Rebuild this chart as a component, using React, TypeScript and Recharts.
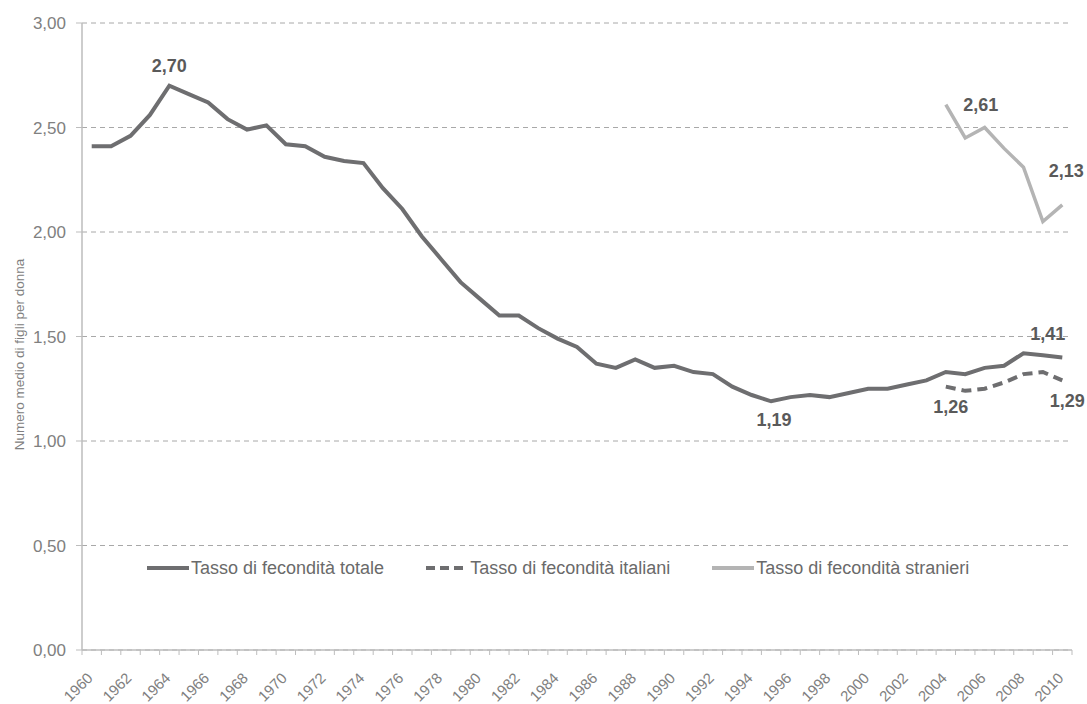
import React from "react";
import {
  ComposedChart,
  Line,
  XAxis,
  YAxis,
  CartesianGrid,
} from "recharts";

// categories
const years = [
  "1960", "1961", "1962", "1963", "1964", "1965", "1966", "1967", "1968", "1969",
  "1970", "1971", "1972", "1973", "1974", "1975", "1976", "1977", "1978", "1979",
  "1980", "1981", "1982", "1983", "1984", "1985", "1986", "1987", "1988", "1989",
  "1990", "1991", "1992", "1993", "1994", "1995", "1996", "1997", "1998", "1999",
  "2000", "2001", "2002", "2003", "2004", "2005", "2006", "2007", "2008", "2009",
  "2010",
];

// Tasso di fecondità totale, 1960-2010
const totale = [
  2.41, 2.41, 2.46, 2.56, 2.70, 2.66, 2.62, 2.54, 2.49, 2.51,
  2.42, 2.41, 2.36, 2.34, 2.33, 2.21, 2.11, 1.98, 1.87, 1.76,
  1.68, 1.60, 1.60, 1.54, 1.49, 1.45, 1.37, 1.35, 1.39, 1.35,
  1.36, 1.33, 1.32, 1.26, 1.22, 1.19, 1.21, 1.22, 1.21, 1.23,
  1.25, 1.25, 1.27, 1.29, 1.33, 1.32, 1.35, 1.36, 1.42, 1.41,
  1.40,
];

// italiani / stranieri only from 2004
const seriesStart = "2004";
const italiani = [1.26, 1.24, 1.25, 1.28, 1.32, 1.33, 1.29];
const stranieri = [2.61, 2.45, 2.50, 2.40, 2.31, 2.05, 2.13];

const yTicks = [0, 0.5, 1, 1.5, 2, 2.5, 3];

// which points get a value label
const totaleNotes = ["1964", "1995", "2009"];
const italianiNotes = ["2004", "2010"];
const stranieriNotes = ["2004", "2010"];

const Y_TITLE = "Numero medio di figli per donna";

const DARK = "#6e6e70";
const LIGHT = "#b4b4b4";
const AXIS = "#bdbdbd";
const FONT = "'Liberation Sans', Arial, Helvetica, sans-serif";

// label placement relative to the point (text baseline)
const NOTE_OFFSETS: Record<string, { dx: number; dy: number }> = {
  "totale-1964": { dx: 0, dy: -14 },
  "totale-1995": { dx: 3, dy: 25 },
  "totale-2009": { dx: 5, dy: -15 },
  "italiani-2004": { dx: 5, dy: 26 },
  "italiani-2010": { dx: 5, dy: 27 },
  "stranieri-2004": { dx: 35, dy: 6 },
  "stranieri-2010": { dx: 4, dy: -28 },
};

const startIdx = years.indexOf(seriesStart);
const data = years.map((year, i) => ({
  year,
  totale: totale[i],
  italiani: i >= startIdx ? italiani[i - startIdx] : null,
  stranieri: i >= startIdx ? stranieri[i - startIdx] : null,
}));

const fmt = (v: number) => v.toFixed(2).replace(".", ",");

function makeNoteDot(series: string, notes: string[]) {
  return (props: any) => {
    const { cx, cy, index, payload, value } = props;
    const key = `${series}-dot-${index}`;
    if (cx == null || cy == null || !payload || !notes.includes(payload.year)) {
      return <g key={key} />;
    }
    const off = NOTE_OFFSETS[`${series}-${payload.year}`] || { dx: 0, dy: -10 };
    const v = Array.isArray(value) ? value[1] : value;
    return (
      <text
        key={key}
        x={cx + off.dx}
        y={cy + off.dy}
        textAnchor="middle"
        fontFamily={FONT}
        fontSize={18}
        fontWeight="bold"
        fill="#5a5a5a"
      >
        {fmt(Number(v))}
      </text>
    );
  };
}

function YearTick(props: any) {
  const { x, y, payload, index } = props;
  const half = payload?.offset || 9.7;
  const showLabel = Number(payload.value) % 2 === 0;
  const tx = x + 2;
  const ty = y + 29;
  return (
    <g>
      <line x1={x - half} x2={x - half} y1={y} y2={y + 5} stroke={AXIS} strokeWidth={1} />
      {index === years.length - 1 && (
        <line x1={x + half} x2={x + half} y1={y} y2={y + 5} stroke={AXIS} strokeWidth={1} />
      )}
      {showLabel && (
        <text
          x={tx}
          y={ty}
          transform={`rotate(-45 ${tx} ${ty})`}
          textAnchor="end"
          fontFamily={FONT}
          fontSize={15}
          fill="#808080"
        >
          {payload.value}
        </text>
      )}
    </g>
  );
}

function renderYTitle(props: any) {
  const vb = props?.viewBox || { x: 0, y: 23, width: 82, height: 627 };
  const cx = vb.x + 19;
  const cy = vb.y + vb.height / 2 + 18;
  return (
    <text
      x={cx}
      y={cy}
      transform={`rotate(-90 ${cx} ${cy})`}
      textAnchor="middle"
      dominantBaseline="central"
      fontFamily={FONT}
      fontSize={13.5}
      fill="#808080"
    >
      {Y_TITLE}
    </text>
  );
}

const legendItems = [
  { name: "Tasso di fecondità totale", color: DARK, dash: undefined, width: 4 },
  { name: "Tasso di fecondità italiani", color: DARK, dash: "9 5", width: 4 },
  { name: "Tasso di fecondità stranieri", color: LIGHT, dash: undefined, width: 4 },
];

function ChartLegend() {
  return (
    <div
      style={{
        position: "absolute",
        left: 147,
        top: 557,
        display: "flex",
        alignItems: "center",
        gap: 42,
        fontFamily: FONT,
        fontSize: 18,
        lineHeight: "22px",
        color: "#6a6a6a",
        whiteSpace: "nowrap",
      }}
    >
      {legendItems.map((item) => (
        <div key={item.name} style={{ display: "flex", alignItems: "center" }}>
          <svg width={42} height={8} style={{ marginRight: 2 }}>
            <line
              x1={0}
              x2={42}
              y1={4}
              y2={4}
              stroke={item.color}
              strokeWidth={item.width}
              strokeDasharray={item.dash}
            />
          </svg>
          <span>{item.name}</span>
        </div>
      ))}
    </div>
  );
}

export default function App() {
  return (
    <div style={{ position: "absolute", left: 0, top: 0, width: 1087, height: 704, background: "#fff" }}>
      <ComposedChart
        width={1087}
        height={704}
        data={data}
        margin={{ top: 23, right: 15, bottom: 0, left: 0 }}
      >
        <CartesianGrid
          vertical={false}
          stroke="#a8a8a8"
          strokeDasharray="5 4"
        />
        <XAxis
          dataKey="year"
          type="category"
          scale="band"
          interval={0}
          height={54}
          tickSize={0}
          tickMargin={0}
          tickLine={false}
          axisLine={{ stroke: AXIS, strokeWidth: 1.5 }}
          tick={<YearTick />}
        />
        <YAxis
          width={82}
          domain={[0, 3]}
          ticks={yTicks}
          interval={0}
          tickFormatter={(v) => fmt(Number(v))}
          tickSize={6}
          tickMargin={10}
          axisLine={{ stroke: AXIS, strokeWidth: 1.5 }}
          tickLine={{ stroke: AXIS }}
          tick={{ fontSize: 17, fill: "#808080", fontFamily: FONT }}
          label={{ value: Y_TITLE, content: renderYTitle }}
        />
        <Line
          dataKey="totale"
          stroke={DARK}
          strokeWidth={4}
          dot={makeNoteDot("totale", totaleNotes)}
          activeDot={false}
          isAnimationActive={false}
        />
        <Line
          dataKey="italiani"
          stroke={DARK}
          strokeWidth={4}
          strokeDasharray="10 6"
          dot={makeNoteDot("italiani", italianiNotes)}
          activeDot={false}
          isAnimationActive={false}
        />
        <Line
          dataKey="stranieri"
          stroke={LIGHT}
          strokeWidth={3.5}
          dot={makeNoteDot("stranieri", stranieriNotes)}
          activeDot={false}
          isAnimationActive={false}
        />
      </ComposedChart>
      <ChartLegend />
    </div>
  );
}
